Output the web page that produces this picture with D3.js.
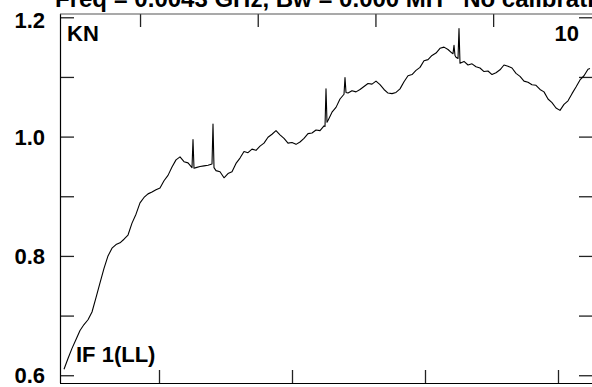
<!DOCTYPE html>
<html>
<head>
<meta charset="utf-8">
<script src="https://cdn.jsdelivr.net/npm/d3@7"></script>
<style>
  body { margin: 0; background: #fff; }
  svg { display: block; }
  text { font-family: "Liberation Sans", Arial, sans-serif; font-weight: bold; fill: #000; }
  .title { white-space: pre; }
</style>
</head>
<body>
<div id="chart-area"></div>
<script>

// spectrum, channel vs amplitude
let chan = [4,8,12,16,20,24,28,32,36,40,44,48,52,56,60,64,68,72,76,80,84,88,92,96,100,104,108,112,116,120,
    124,128,132,133,134,136,140,144,148,152,153,154,156,160,164,168,172,176,180,184,188,192,196,200,204,208,212,216,220,
    224,228,232,236,240,244,248,252,256,260,264,265,266,267,268,272,276,280,284,285,286,288,292,296,300,304,308,312,316,
    320,324,328,332,336,340,344,348,352,356,360,364,368,372,376,380,384,388,392,393,394,395,396,398,399,400,404,408,
    412,416,420,424,428,432,436,440,444,448,452,456,460,464,468,472,476,480,484,488,492,496,500,504,508,512,516,520,
    524,528,530];

let amp = [0.610,0.628,0.645,0.660,0.675,0.685,0.693,0.706,0.730,0.755,0.779,0.800,0.813,0.819,0.822,0.828,0.835,0.855,
    0.870,0.889,0.898,0.904,0.907,0.911,0.914,0.926,0.935,0.949,0.961,0.966,0.958,0.956,0.948,0.995,0.947,0.948,0.950,
    0.951,0.952,0.954,1.021,0.948,0.943,0.941,0.931,0.938,0.941,0.955,0.964,0.975,0.973,0.979,0.977,0.984,0.989,0.999,
    1.004,1.010,1.003,0.997,0.989,0.990,0.987,0.991,0.997,1.005,1.006,1.011,1.010,1.018,1.017,1.080,1.024,1.027,1.041,
    1.049,1.063,1.071,1.099,1.074,1.073,1.077,1.075,1.079,1.084,1.089,1.088,1.093,1.087,1.079,1.073,1.072,1.074,1.080,
    1.092,1.102,1.104,1.111,1.116,1.127,1.129,1.136,1.140,1.148,1.150,1.146,1.140,1.139,1.153,1.136,1.133,1.131,1.181,
    1.123,1.126,1.120,1.122,1.117,1.115,1.109,1.110,1.104,1.107,1.112,1.120,1.118,1.115,1.106,1.101,1.093,1.091,1.087,
    1.086,1.079,1.075,1.063,1.057,1.048,1.044,1.054,1.060,1.072,1.083,1.095,1.102,1.113,1.114];

let yTicks = [0.6, 0.7, 0.8, 0.9, 1.0, 1.1, 1.2];
let yLabels = [0.6, 0.8, 1.0, 1.2];
let bottomTicks = [99, 232, 365, 498];
let topTicks = [1, 2, 3, 4];

let title = "Freq = 0.0043 GHz, Bw = 0.000 MH   No calibration";
let source = "KN";
let page = "10";
let ifLabel = "IF 1(LL)";

let W = 592, H = 387;
let margin = {top: 14, right: 0, bottom: 4, left: 60};

let svg = d3.select("#chart-area").append("svg")
    .attr("width", W)
    .attr("height", H);

let x = d3.scaleLinear().domain([0, 532]).range([margin.left, W]);
let xTop = d3.scaleLinear().domain([0.32, 4.84]).range([margin.left, W]);
let y = d3.scaleLinear().domain([0.587, 1.2055]).range([H - margin.bottom, margin.top]);

let data = chan.map((c, i) => ({chan: c, amp: amp[i]}));

// axes, ticks pointing inward
let tickStyle = g => {
    g.select(".domain").remove();
    g.selectAll(".tick line").attr("stroke", "#222").attr("stroke-width", 1.3);
};

svg.append("g")
    .attr("transform", "translate(" + margin.left + ",0)")
    .call(d3.axisLeft(y).tickValues(yTicks).tickSize(-14).tickPadding(15)
        .tickFormat(d => yLabels.some(v => Math.abs(v - d) < 1e-6) ? d3.format(".1f")(d) : ""))
    .call(tickStyle)
    .call(g => g.selectAll(".tick text")
        .attr("font-size", 22)
        .attr("font-family", null)
        .attr("dy", d => d > 1.15 ? "0.45em" : "0.34em"));

svg.append("g")
    .attr("transform", "translate(" + W + ",0)")
    .call(d3.axisRight(y).tickValues(yTicks).tickSize(-13).tickFormat(""))
    .call(tickStyle);

svg.append("g")
    .attr("transform", "translate(0," + (H - margin.bottom) + ")")
    .call(d3.axisBottom(x).tickValues(bottomTicks).tickSize(-13).tickFormat(""))
    .call(tickStyle);

svg.append("g")
    .attr("transform", "translate(0," + margin.top + ")")
    .call(d3.axisTop(xTop).tickValues(topTicks).tickSize(-13).tickFormat(""))
    .call(tickStyle);

// frame
svg.append("line")
    .attr("x1", margin.left + 0.5).attr("x2", margin.left + 0.5)
    .attr("y1", margin.top).attr("y2", H - margin.bottom)
    .attr("stroke", "#000").attr("stroke-width", 1.2);
svg.append("line")
    .attr("x1", margin.left).attr("x2", W)
    .attr("y1", H - margin.bottom + 0.5).attr("y2", H - margin.bottom + 0.5)
    .attr("stroke", "#000").attr("stroke-width", 1.2);
svg.append("line")
    .attr("x1", margin.left).attr("x2", W)
    .attr("y1", margin.top).attr("y2", margin.top)
    .attr("stroke", "#555").attr("stroke-width", 1.2);

let line = d3.line()
    .x(d => x(d.chan))
    .y(d => y(d.amp));

svg.append("path")
    .datum(data)
    .attr("d", line)
    .attr("fill", "none")
    .attr("stroke", "#000")
    .attr("stroke-width", 1.1)
    .attr("stroke-linejoin", "round");

// labels
svg.append("text")
    .attr("class", "title")
    .attr("x", 55).attr("y", 7)
    .attr("font-size", 24)
    .text(title);

svg.append("text")
    .attr("x", 67).attr("y", 41)
    .attr("font-size", 22)
    .text(source);

svg.append("text")
    .attr("x", 579).attr("y", 41)
    .attr("text-anchor", "end")
    .attr("font-size", 22)
    .text(page);

svg.append("text")
    .attr("x", 76).attr("y", 362)
    .attr("font-size", 22)
    .text(ifLabel);

</script>
</body>
</html>
